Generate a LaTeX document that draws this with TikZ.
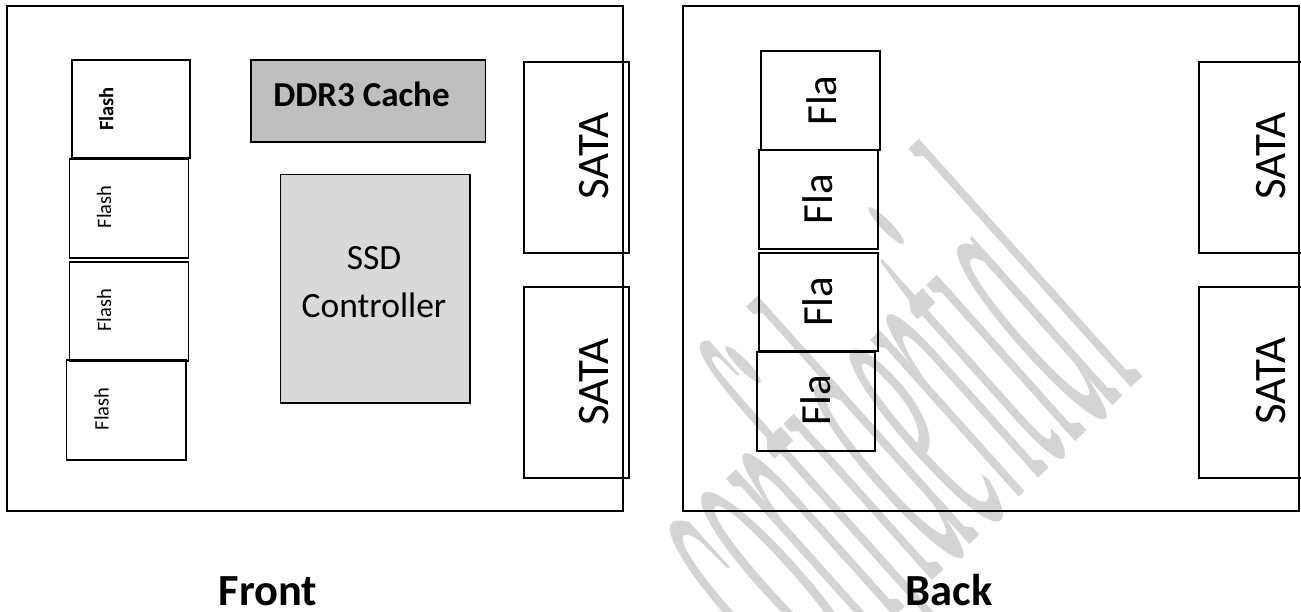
\documentclass[tikz,border=0pt]{standalone}
\usepackage{fontspec}
\setmainfont{Carlito}
\newfontfamily\wmfont{Liberation Serif}
\definecolor{ddrgray}{HTML}{BFBFBF}
\definecolor{ctrlgray}{HTML}{D9D9D9}
\definecolor{wmgray}{HTML}{D4D4D4}
\begin{document}
\begin{tikzpicture}[x=1pt,y=-1pt,
  board/.style={draw=black, line width=2, anchor=north west, inner sep=0pt},
  chip/.style={draw=black, line width=1.8, anchor=north west, inner sep=0pt},
  small/.style={rotate=90, anchor=base, inner sep=0pt, font=\fontsize{20.5}{24}\selectfont},
  smallbold/.style={small, font=\fontsize{20.5}{24}\selectfont\bfseries},
  sata/.style={rotate=90, anchor=base, inner sep=0pt, font=\fontsize{45}{54}\selectfont},
  fla/.style={rotate=90, anchor=base, inner sep=0pt, font=\fontsize{43}{52}\selectfont},
  caption/.style={anchor=base, inner sep=0pt, font=\fontsize{44.5}{53}\selectfont\bfseries}]
\useasboundingbox (0,0) rectangle (1301,611);
\fill[white] (0,0) rectangle (1301,611);
% watermark
\begin{scope}
  \clip (0,0) rectangle (1301,611);
  \node[rotate=44, anchor=base east, inner sep=0pt, text=wmgray,
        font=\wmfont\itshape\fontsize{100}{100}\selectfont] (wm) at (1148,372)
        {\scalebox{1}[4.7]{confidential}};
\end{scope}
% front board
\node[board, minimum width=616, minimum height=505] (front) at (6,5) {};
\node[chip, minimum width=118.6, minimum height=98.3] (f1) at (70.7,59) {};
\node[chip, minimum width=119, minimum height=99] (f2) at (68.5,158.3) {};
\node[chip, minimum width=119, minimum height=99.3] (f3) at (68.5,260.7) {};
\node[chip, minimum width=119.4, minimum height=100] (f4) at (65.6,359) {};
\node[smallbold] (f1t) at (113.3,109) {Flash};
\node[small] (f2t) at (111,207) {Flash};
\node[small] (f3t) at (111,310.5) {Flash};
\node[small] (f4t) at (108.7,409) {Flash};
\node[chip, fill=ddrgray, minimum width=234.5, minimum height=82] (ddr) at (250,59) {};
\node[anchor=base, inner sep=0pt, font=\fontsize{35}{42}\selectfont\bfseries] (ddrt) at (361.5,106) {DDR3 Cache};
\node[chip, fill=ctrlgray, minimum width=189.5, minimum height=228.5] (ctrl) at (279.5,173.5) {};
\node[anchor=base, inner sep=0pt, font=\fontsize{35.5}{42}\selectfont] (ctrlt1) at (374,269) {SSD};
\node[anchor=base, inner sep=0pt, font=\fontsize{35.5}{42}\selectfont] (ctrlt2) at (374,317) {Controller};
\node[chip, minimum width=105.6, minimum height=191.3] (s1) at (522.7,61) {};
\node[chip, minimum width=105.6, minimum height=191] (s2) at (522.7,286) {};
\node[sata] (s1t) at (608,156) {SATA};
\node[sata] (s2t) at (608,382) {SATA};
% back board
\node[board, minimum width=615.7, minimum height=505] (back) at (682,5) {};
\node[chip, minimum width=119, minimum height=99.3] (b1) at (760,50) {};
\node[chip, minimum width=118.4, minimum height=98.7] (b2) at (758.3,149.3) {};
\node[chip, minimum width=118.4, minimum height=98.3] (b3) at (758.3,251.7) {};
\node[chip, minimum width=118.3, minimum height=99.3] (b4) at (755.7,350.7) {};
\node[fla] (b1t) at (836,100.5) {Fla};
\node[fla] (b2t) at (832.7,199) {Fla};
\node[fla] (b3t) at (832.7,301.7) {Fla};
\node[fla] (b4t) at (830,400) {Fla};
\begin{scope}
  \clip (0,0) rectangle (1301,611);
  \node[chip, minimum width=106, minimum height=191.3] (s3) at (1197.7,61) {};
  \node[chip, minimum width=106, minimum height=191] (s4) at (1197.7,286) {};
\end{scope}
\node[sata] (s3t) at (1285,156) {SATA};
\node[sata] (s4t) at (1285,381) {SATA};
% captions
\node[caption] (frontt) at (268,605) {Front};
\node[caption] (backt) at (949,605) {Back};
\end{tikzpicture}
\end{document}
